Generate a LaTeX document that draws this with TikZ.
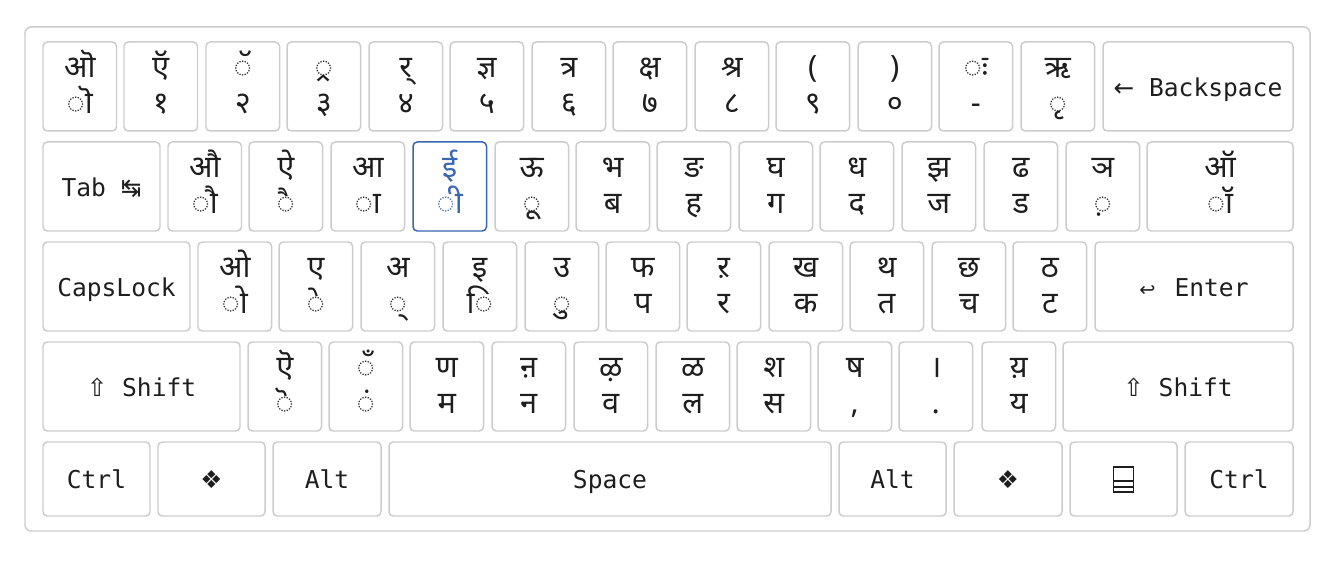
\documentclass[tikz,border=0pt]{standalone}
\usepackage{fontspec}
\newfontfamily\deva[Script=Devanagari]{Noto Sans}
\newfontfamily\keymono{DejaVu Sans Mono}
\newfontfamily\keysym{DejaVu Sans}

\definecolor{keyborder}{HTML}{CCCCCC}
\definecolor{keyblue}{HTML}{3A66B2}
\definecolor{keyink}{HTML}{1E1E1E}

% one pixel of the layout
\def\px{0.02cm}

\tikzset{
	keycap/.style = {draw = keyborder, line width = 0.85pt, rounded corners = 2.4pt, inner sep = 0pt},
	activecap/.style = {keycap, draw = keyblue},
	upperchar/.style = {font = \deva\fontsize{17.5}{17.5}\selectfont, text = keyink, anchor = base, inner sep = 0pt},
	lowerchar/.style = {upperchar},
	modlabel/.style = {font = \keymono\fontsize{14}{14}\selectfont, text = keyink, anchor = base, inner sep = 0pt}
}

\begin{document}
\begin{tikzpicture}[x = 0.02cm, y = -0.02cm]

	\useasboundingbox (0, 0) rectangle (1335, 567);

	% outer frame of the keyboard
	\node[draw = keyborder, line width = 0.85pt, rounded corners = 3.5pt, minimum width = 1285*\px, minimum height = 504*\px] (board) at (667.5, 279) {};

	% width of a character key
	\def\keyW{73.5}

	% number row
	\foreach \name/\xl/\kup/\klo in {grave/43/ऒ/◌ॊ, one/124/ऍ/१, two/206/◌ॅ/२, three/287/◌्र/३, four/369/र्/४, five/450/ज्ञ/५, six/532/त्र/६, seven/613/क्ष/७, eight/695/श्र/८, nine/776/{(}/९, zero/858/{)}/०, minus/939/◌ः/-, equal/1021/ऋ/◌ृ} {
		\node[keycap, minimum width = \keyW*\px, minimum height = 89*\px] (\name) at (\xl + 36.75, 86.5) {};
		\node[upperchar] at ([yshift = -36*\px]\name.north) {\kup};
		\node[lowerchar] at ([yshift = -72*\px]\name.north) {\klo};
	}
	\node[keycap, minimum width = 190*\px, minimum height = 89*\px] (backspace) at (1198, 86.5) {};
	\node[modlabel] at ([yshift = -10*\px]backspace.center) {{\keysym ←} Backspace};

	% top letter row
	\node[keycap, minimum width = 117*\px, minimum height = 89*\px] (tab) at (101.5, 186.5) {};
	\node[modlabel] at ([yshift = -10*\px]tab.center) {Tab {\keysym ↹}};
	\foreach \name/\xl/\kup/\klo in {q/168/औ/◌ौ, w/249/ऐ/◌ै, e/331/आ/◌ा, t/495/ऊ/◌ू, y/576/भ/ब, u/657/ङ/ह, i/739/घ/ग, o/820/ध/द, p/902/झ/ज, bracketleft/984/ढ/ड, bracketright/1066/ञ/◌़} {
		\node[keycap, minimum width = \keyW*\px, minimum height = 89*\px] (\name) at (\xl + 36.75, 186.5) {};
		\node[upperchar] at ([yshift = -36*\px]\name.north) {\kup};
		\node[lowerchar] at ([yshift = -72*\px]\name.north) {\klo};
	}
	% the key that is pressed
	\node[activecap, minimum width = \keyW*\px, minimum height = 89*\px] (r) at (413 + 36.75, 186.5) {};
	\node[upperchar, text = keyblue] at ([yshift = -36*\px]r.north) {ई};
	\node[lowerchar, text = keyblue] at ([yshift = -72*\px]r.north) {◌ी};
	\node[keycap, minimum width = 146*\px, minimum height = 89*\px] (backslash) at (1220, 186.5) {};
	\node[upperchar] at ([yshift = -36*\px]backslash.north) {ऑ};
	\node[lowerchar] at ([yshift = -72*\px]backslash.north) {◌ॉ};

	% home row
	\node[keycap, minimum width = 147*\px, minimum height = 89*\px] (capslock) at (116.5, 286.5) {};
	\node[modlabel] at ([yshift = -10*\px]capslock.center) {CapsLock};
	\foreach \name/\xl/\kup/\klo in {a/198/ओ/◌ो, s/279/ए/◌े, d/361/अ/◌्, f/443/इ/◌ि, g/525/उ/◌ु, h/606/फ/प, j/687/ऱ/र, k/769/ख/क, l/850/थ/त, semicolon/932/छ/च, quote/1013/ठ/ट} {
		\node[keycap, minimum width = \keyW*\px, minimum height = 89*\px] (\name) at (\xl + 36.75, 286.5) {};
		\node[upperchar] at ([yshift = -36*\px]\name.north) {\kup};
		\node[lowerchar] at ([yshift = -72*\px]\name.north) {\klo};
	}
	\node[keycap, minimum width = 198*\px, minimum height = 89*\px] (enter) at (1194, 286.5) {};
	\node[modlabel] at ([yshift = -10*\px]enter.center) {{\keysym\fontsize{11}{11}\selectfont ↩}\, Enter};

	% bottom letter row
	\node[keycap, minimum width = 197*\px, minimum height = 89*\px] (lshift) at (141.5, 386.5) {};
	\node[modlabel] at ([yshift = -10*\px]lshift.center) {{\keysym ⇧} Shift};
	\foreach \name/\xl/\kup/\klo in {z/248/ऎ/◌ॆ, x/329/◌ँ/◌ं, c/410/ण/म, v/492/ऩ/न, b/574/ऴ/व, n/656/ळ/ल, m/737/श/स, comma/818/ष/{,}, period/899/।/., slash/982/य़/य} {
		\node[keycap, minimum width = \keyW*\px, minimum height = 89*\px] (\name) at (\xl + 36.75, 386.5) {};
		\node[upperchar] at ([yshift = -36*\px]\name.north) {\kup};
		\node[lowerchar] at ([yshift = -72*\px]\name.north) {\klo};
	}
	\node[keycap, minimum width = 230*\px, minimum height = 89*\px] (rshift) at (1178, 386.5) {};
	\node[modlabel] at ([yshift = -10*\px]rshift.center) {{\keysym ⇧} Shift};

	% space row
	\foreach \name/\xl/\kw/\lbl in {lctrl/43/107/Ctrl, lwin/158/107/{\keysym ❖}, lalt/273/108/Alt, space/389/442/Space, ralt/839/107/Alt, rwin/954/108/{\keysym ❖}, menu/1070/107/{}, rctrl/1185/108/Ctrl} {
		\node[keycap, minimum width = \kw*\px, minimum height = 74*\px] (\name) at (\xl + \kw/2, 479) {};
		\node[modlabel] at ([yshift = -9*\px]\name.center) {\lbl};
	}

	% menu icon
	\draw[keyink, line width = 0.7pt] ([xshift = -10*\px, yshift = 12*\px]menu.center) rectangle ([xshift = 10*\px, yshift = -13*\px]menu.center);
	\draw[keyink, line width = 0.7pt] ([xshift = -10*\px, yshift = -2*\px]menu.center) -- ([xshift = 10*\px, yshift = -2*\px]menu.center);
	\draw[keyink, line width = 0.7pt] ([xshift = -10*\px, yshift = -8*\px]menu.center) -- ([xshift = 10*\px, yshift = -8*\px]menu.center);

\end{tikzpicture}
\end{document}
